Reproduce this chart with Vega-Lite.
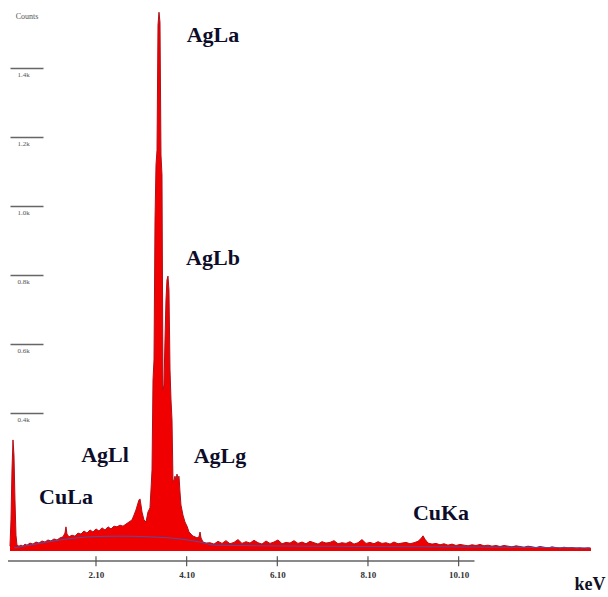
{
  "$schema": "https://vega.github.io/schema/vega-lite/v6.json",
  "width": 584,
  "height": 556,
  "autosize": {"type": "none"},
  "padding": {"left": 8, "top": 5, "right": 16, "bottom": 36},
  "background": "white",
  "config": {"view": {"stroke": null}},
  "datasets": {
    "spectrum": [
      {"keV": 0.203, "counts": 14}, {"keV": 0.225, "counts": 90}, {"keV": 0.247, "counts": 235}, {"keV": 0.269, "counts": 322},
      {"keV": 0.291, "counts": 278}, {"keV": 0.313, "counts": 148}, {"keV": 0.335, "counts": 46}, {"keV": 0.357, "counts": 17},
      {"keV": 0.401, "counts": 14}, {"keV": 0.446, "counts": 17}, {"keV": 0.490, "counts": 14}, {"keV": 0.534, "counts": 20},
      {"keV": 0.578, "counts": 17}, {"keV": 0.644, "counts": 23}, {"keV": 0.710, "counts": 20}, {"keV": 0.777, "counts": 26},
      {"keV": 0.843, "counts": 23}, {"keV": 0.909, "counts": 29}, {"keV": 0.975, "counts": 26}, {"keV": 1.041, "counts": 32},
      {"keV": 1.107, "counts": 29}, {"keV": 1.174, "counts": 35}, {"keV": 1.240, "counts": 32}, {"keV": 1.306, "counts": 38},
      {"keV": 1.372, "counts": 41}, {"keV": 1.416, "counts": 52}, {"keV": 1.438, "counts": 70}, {"keV": 1.460, "counts": 49},
      {"keV": 1.504, "counts": 41}, {"keV": 1.571, "counts": 46}, {"keV": 1.637, "counts": 43}, {"keV": 1.703, "counts": 52},
      {"keV": 1.769, "counts": 49}, {"keV": 1.835, "counts": 58}, {"keV": 1.901, "counts": 52}, {"keV": 1.968, "counts": 61},
      {"keV": 2.034, "counts": 55}, {"keV": 2.100, "counts": 64}, {"keV": 2.166, "counts": 58}, {"keV": 2.232, "counts": 67},
      {"keV": 2.299, "counts": 61}, {"keV": 2.365, "counts": 70}, {"keV": 2.431, "counts": 64}, {"keV": 2.497, "counts": 72},
      {"keV": 2.563, "counts": 70}, {"keV": 2.629, "counts": 75}, {"keV": 2.696, "counts": 72}, {"keV": 2.762, "counts": 78},
      {"keV": 2.828, "counts": 84}, {"keV": 2.894, "counts": 90}, {"keV": 2.938, "counts": 104}, {"keV": 2.982, "counts": 119},
      {"keV": 3.027, "counts": 139}, {"keV": 3.049, "counts": 148}, {"keV": 3.071, "counts": 151}, {"keV": 3.093, "counts": 133},
      {"keV": 3.115, "counts": 113}, {"keV": 3.159, "counts": 90}, {"keV": 3.203, "counts": 84}, {"keV": 3.247, "counts": 113},
      {"keV": 3.291, "counts": 125}, {"keV": 3.313, "counts": 177}, {"keV": 3.336, "counts": 235}, {"keV": 3.358, "counts": 496},
      {"keV": 3.380, "counts": 554}, {"keV": 3.402, "counts": 959}, {"keV": 3.424, "counts": 1119}, {"keV": 3.446, "counts": 1162},
      {"keV": 3.468, "counts": 1525}, {"keV": 3.490, "counts": 1562}, {"keV": 3.512, "counts": 1533}, {"keV": 3.534, "counts": 1148},
      {"keV": 3.556, "counts": 1090}, {"keV": 3.578, "counts": 467}, {"keV": 3.600, "counts": 481}, {"keV": 3.622, "counts": 612},
      {"keV": 3.644, "counts": 728}, {"keV": 3.666, "counts": 786}, {"keV": 3.688, "counts": 797}, {"keV": 3.710, "counts": 757},
      {"keV": 3.733, "counts": 525}, {"keV": 3.755, "counts": 438}, {"keV": 3.777, "counts": 380}, {"keV": 3.799, "counts": 200},
      {"keV": 3.821, "counts": 206}, {"keV": 3.843, "counts": 217}, {"keV": 3.865, "counts": 206}, {"keV": 3.887, "counts": 223},
      {"keV": 3.909, "counts": 212}, {"keV": 3.931, "counts": 217}, {"keV": 3.953, "counts": 171}, {"keV": 3.975, "counts": 133},
      {"keV": 4.019, "counts": 104}, {"keV": 4.063, "counts": 84}, {"keV": 4.108, "counts": 72}, {"keV": 4.152, "counts": 55},
      {"keV": 4.196, "counts": 49}, {"keV": 4.240, "counts": 43}, {"keV": 4.284, "counts": 41}, {"keV": 4.328, "counts": 38},
      {"keV": 4.372, "counts": 41}, {"keV": 4.395, "counts": 55}, {"keV": 4.417, "counts": 38}, {"keV": 4.461, "counts": 26},
      {"keV": 4.527, "counts": 23}, {"keV": 4.615, "counts": 24}, {"keV": 4.703, "counts": 20}, {"keV": 4.792, "counts": 28},
      {"keV": 4.880, "counts": 22}, {"keV": 4.968, "counts": 30}, {"keV": 5.056, "counts": 21}, {"keV": 5.145, "counts": 25},
      {"keV": 5.233, "counts": 33}, {"keV": 5.321, "counts": 22}, {"keV": 5.409, "counts": 27}, {"keV": 5.498, "counts": 23},
      {"keV": 5.586, "counts": 31}, {"keV": 5.674, "counts": 24}, {"keV": 5.762, "counts": 20}, {"keV": 5.851, "counts": 29},
      {"keV": 5.939, "counts": 22}, {"keV": 6.027, "counts": 26}, {"keV": 6.115, "counts": 32}, {"keV": 6.204, "counts": 21},
      {"keV": 6.292, "counts": 25}, {"keV": 6.380, "counts": 23}, {"keV": 6.468, "counts": 30}, {"keV": 6.557, "counts": 22},
      {"keV": 6.645, "counts": 26}, {"keV": 6.733, "counts": 21}, {"keV": 6.821, "counts": 28}, {"keV": 6.910, "counts": 24},
      {"keV": 6.998, "counts": 20}, {"keV": 7.086, "counts": 27}, {"keV": 7.174, "counts": 23}, {"keV": 7.262, "counts": 25},
      {"keV": 7.351, "counts": 30}, {"keV": 7.439, "counts": 21}, {"keV": 7.527, "counts": 24}, {"keV": 7.615, "counts": 22},
      {"keV": 7.704, "counts": 27}, {"keV": 7.792, "counts": 20}, {"keV": 7.880, "counts": 24}, {"keV": 7.968, "counts": 33},
      {"keV": 8.057, "counts": 22}, {"keV": 8.145, "counts": 25}, {"keV": 8.233, "counts": 21}, {"keV": 8.321, "counts": 27},
      {"keV": 8.410, "counts": 22}, {"keV": 8.498, "counts": 24}, {"keV": 8.586, "counts": 20}, {"keV": 8.674, "counts": 26},
      {"keV": 8.763, "counts": 21}, {"keV": 8.851, "counts": 23}, {"keV": 8.939, "counts": 25}, {"keV": 9.027, "counts": 21},
      {"keV": 9.116, "counts": 24}, {"keV": 9.204, "counts": 28}, {"keV": 9.270, "counts": 36}, {"keV": 9.314, "counts": 44},
      {"keV": 9.358, "counts": 34}, {"keV": 9.424, "counts": 23}, {"keV": 9.513, "counts": 20}, {"keV": 9.601, "counts": 22},
      {"keV": 9.689, "counts": 18}, {"keV": 9.777, "counts": 21}, {"keV": 9.865, "counts": 17}, {"keV": 9.954, "counts": 20},
      {"keV": 10.042, "counts": 16}, {"keV": 10.130, "counts": 19}, {"keV": 10.219, "counts": 17}, {"keV": 10.307, "counts": 15},
      {"keV": 10.395, "counts": 18}, {"keV": 10.483, "counts": 16}, {"keV": 10.572, "counts": 19}, {"keV": 10.660, "counts": 15},
      {"keV": 10.748, "counts": 17}, {"keV": 10.836, "counts": 14}, {"keV": 10.924, "counts": 16}, {"keV": 11.013, "counts": 13},
      {"keV": 11.101, "counts": 16}, {"keV": 11.189, "counts": 14}, {"keV": 11.277, "counts": 12}, {"keV": 11.366, "counts": 15},
      {"keV": 11.454, "counts": 13}, {"keV": 11.542, "counts": 11}, {"keV": 11.630, "counts": 14}, {"keV": 11.719, "counts": 12},
      {"keV": 11.807, "counts": 10}, {"keV": 11.895, "counts": 13}, {"keV": 11.983, "counts": 11}, {"keV": 12.072, "counts": 9},
      {"keV": 12.160, "counts": 12}, {"keV": 12.248, "counts": 10}, {"keV": 12.336, "counts": 8}, {"keV": 12.425, "counts": 11},
      {"keV": 12.513, "counts": 9}, {"keV": 12.601, "counts": 10}, {"keV": 12.689, "counts": 8}, {"keV": 12.778, "counts": 9},
      {"keV": 12.866, "counts": 7}, {"keV": 12.954, "counts": 9}, {"keV": 13.020, "counts": 8}
    ],
    "background": [
      {"keV": 0.291, "counts": 9}, {"keV": 0.644, "counts": 17}, {"keV": 1.306, "counts": 32}, {"keV": 1.968, "counts": 41},
      {"keV": 2.629, "counts": 43}, {"keV": 3.291, "counts": 41}, {"keV": 3.953, "counts": 35}, {"keV": 4.395, "counts": 26},
      {"keV": 4.725, "counts": 17}, {"keV": 6.600, "counts": 14}, {"keV": 9.910, "counts": 12}, {"keV": 12.998, "counts": 9}
    ],
    "labels": [
      {"label": "AgLa", "keV": 4.681, "counts": 1496},
      {"label": "AgLb", "keV": 4.681, "counts": 849},
      {"label": "AgLl", "keV": 2.299, "counts": 278},
      {"label": "AgLg", "keV": 4.836, "counts": 275},
      {"label": "CuLa", "keV": 1.438, "counts": 157},
      {"label": "CuKa", "keV": 9.711, "counts": 110}
    ],
    "xticks": [{"keV": 2.1}, {"keV": 4.1}, {"keV": 6.1}, {"keV": 8.1}, {"keV": 10.1}]
  },
  "layer": [
    {
      "data": {"values": [{"start": 0.159, "end": 10.45}]},
      "mark": {"type": "rule", "color": "#8a8a8a", "strokeWidth": 2},
      "encoding": {
        "x": {"field": "start", "type": "quantitative", "scale": {"domain": [0.159, 13.042], "nice": false, "zero": false},
          "axis": {"values": [2.1, 4.1, 6.1, 8.1, 10.1], "format": ".2f", "domain": false, "ticks": false, "grid": false,
            "labelPadding": 9, "labelFont": "Liberation Serif", "labelFontWeight": "bold", "labelFontSize": 9, "labelColor": "#333333",
            "title": "keV", "titleFont": "Liberation Serif", "titleFontWeight": "bold", "titleFontSize": 18, "titleColor": "#111122",
            "titleAnchor": "end", "titleAlign": "right", "titleX": 597, "titleY": 28, "titleBaseline": "alphabetic"}},
        "x2": {"field": "end"},
        "y": {"datum": -29, "type": "quantitative", "scale": {"domain": [-29, 1583], "nice": false, "zero": false},
          "axis": {"orient": "left", "offset": -35, "values": [400, 600, 800, 1000, 1200, 1400],
            "labelExpr": "format(datum.value / 1000, '.1f') + 'k'", "domain": false, "ticks": true, "tickSize": 33,
            "tickColor": "#666666", "tickWidth": 1.5, "labelAlign": "left", "labelBaseline": "top", "labelPadding": -7,
            "labelOffset": 2, "labelFont": "Liberation Serif", "labelFontSize": 7, "labelColor": "#555555", "grid": false, "title": null}}
      }
    },
    {
      "data": {"name": "xticks"},
      "mark": {"type": "rule", "color": "#555555", "strokeWidth": 1.2},
      "encoding": {
        "x": {"field": "keV", "type": "quantitative"},
        "y": {"datum": -15, "type": "quantitative"},
        "y2": {"datum": -44}
      }
    },
    {
      "data": {"name": "spectrum"},
      "mark": {"type": "area", "color": "#f00000", "opacity": 1},
      "encoding": {
        "x": {"field": "keV", "type": "quantitative"},
        "y": {"field": "counts", "type": "quantitative"}
      }
    },
    {
      "data": {"name": "spectrum"},
      "mark": {"type": "line", "color": "#b01018", "strokeWidth": 1},
      "encoding": {
        "x": {"field": "keV", "type": "quantitative"},
        "y": {"field": "counts", "type": "quantitative"}
      }
    },
    {
      "data": {"name": "background"},
      "mark": {"type": "line", "color": "#5050a8", "strokeWidth": 1, "interpolate": "monotone"},
      "encoding": {
        "x": {"field": "keV", "type": "quantitative"},
        "y": {"field": "counts", "type": "quantitative"}
      }
    },
    {
      "data": {"name": "labels"},
      "mark": {"type": "text", "font": "Liberation Serif", "fontWeight": "bold", "fontSize": 22, "fill": "#0d0d2a", "align": "center", "baseline": "middle"},
      "encoding": {
        "x": {"field": "keV", "type": "quantitative"},
        "y": {"field": "counts", "type": "quantitative"},
        "text": {"field": "label"}
      }
    },
    {
      "data": {"values": [{"label": "Counts", "keV": 0.578, "counts": 1548}]},
      "mark": {"type": "text", "font": "Liberation Serif", "fontSize": 8, "fill": "#555555", "align": "center", "baseline": "middle"},
      "encoding": {
        "x": {"field": "keV", "type": "quantitative"},
        "y": {"field": "counts", "type": "quantitative"},
        "text": {"field": "label"}
      }
    }
  ]
}
